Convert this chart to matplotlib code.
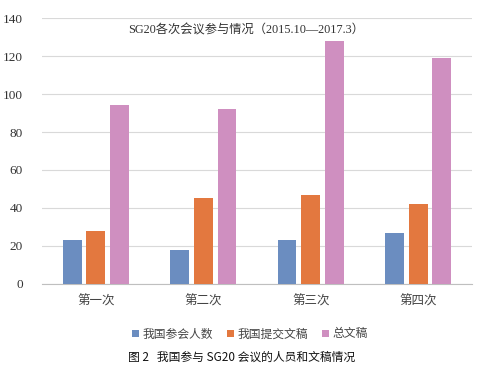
import matplotlib.pyplot as plt
import numpy as np

plt.rcParams['font.family'] = ['Noto Sans CJK SC', 'DejaVu Sans']

categories = ["第一次", "第二次", "第三次", "第四次"]
series_names = ["我国参会人数", "我国提交文稿", "总文稿"]
attendees = [23, 18, 23, 27]
submitted = [28, 45, 47, 42]
total_docs = [94, 92, 128, 119]
colors = ["#6B8DC0", "#E3783F", "#CF8FC0"]

fig = plt.figure(figsize=(4.84, 3.77), dpi=100)
ax = fig.add_axes([0.087, 0.247, 0.888, 0.705])

x = np.arange(len(categories))
w = 0.175
step = 0.22
for i, (vals, name) in enumerate(zip([attendees, submitted, total_docs], series_names)):
    ax.bar(x + (i - 1) * step, vals, width=w, color=colors[i], label=name, zorder=3)

ax.set_xlim(-0.5, len(categories) - 0.5)
ax.set_ylim(0, 140)
ax.set_yticks(range(0, 141, 20))
ax.grid(axis="y", color="#D9D9D9", linewidth=0.8, zorder=0)
for s in ["top", "right", "left"]:
    ax.spines[s].set_visible(False)
ax.spines["bottom"].set_color("#BFBFBF")
ax.tick_params(length=0)
ax.tick_params(axis="y", pad=14)
ax.tick_params(axis="x", pad=8)
ax.set_yticklabels([str(v) for v in range(0, 141, 20)], family="Liberation Serif", fontsize=9.5, color="#333333")
ax.set_xticks(x)
ax.set_xticklabels(categories, fontsize=9, color="#444444")

fig.text(246 / 484, 1 - 30 / 377, "SG20各次会议参与情况（2015.10—2017.3）",
         ha="center", va="center", fontsize=8.8, color="#333333",
         family=["Liberation Serif", "Noto Sans CJK SC"])

fig.legend(loc="center", bbox_to_anchor=(250 / 484, 1 - 334 / 377), ncol=3,
           frameon=False, fontsize=8.5, handlelength=0.6, handleheight=0.6,
           handletextpad=0.3, columnspacing=1.2, labelcolor="#444444")

fig.text(242 / 484, 1 - 357 / 377, "图 2   我国参与 SG20 会议的人员和文稿情况",
         ha="center", va="center", fontsize=8.5, color="#111111")

fig.savefig("out.png", dpi=100)
